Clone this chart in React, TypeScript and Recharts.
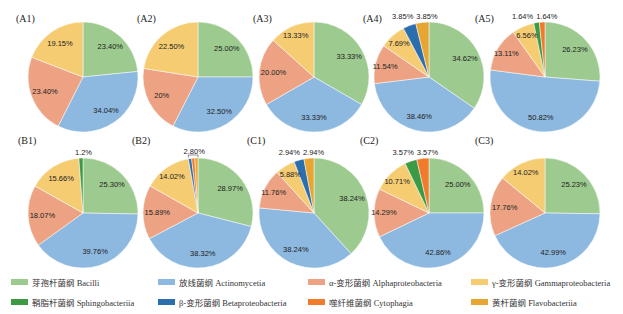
import { PieChart, Pie, Cell } from 'recharts';

const CLASS_NAMES = [
  '芽孢杆菌纲 Bacilli',
  '放线菌纲 Actinomycetia',
  'α-变形菌纲 Alphaproteobacteria',
  'γ-变形菌纲 Gammaproteobacteria',
  '鞘脂杆菌纲 Sphingobacteriia',
  'β-变形菌纲 Betaproteobacteria',
  '噬纤维菌纲 Cytophagia',
  '黄杆菌纲 Flavobacteriia',
];
const CLASS_COLORS = ['#9dca8e', '#8db8df', '#eca283', '#f5cc72', '#3c9a44', '#2b6ead', '#f27b2b', '#e7a632'];

// slice values (%), clockwise from 12 o'clock, with the class index of each slice
const A1_VALUES = [23.4, 34.04, 23.4, 19.15];
const A1_CLASSES = [0, 1, 2, 3];
const A2_VALUES = [25.0, 32.5, 20, 22.5];
const A2_CLASSES = [0, 1, 2, 3];
const A2_LABELS = ['25.00%', '32.50%', '20%', '22.50%'];
const A3_VALUES = [33.33, 33.33, 20.0, 13.33];
const A3_CLASSES = [0, 1, 2, 3];
const A4_VALUES = [34.62, 38.46, 11.54, 7.69, 3.85, 3.85];
const A4_CLASSES = [0, 1, 2, 3, 5, 7];
const A5_VALUES = [26.23, 50.82, 13.11, 6.56, 1.64, 1.64];
const A5_CLASSES = [0, 1, 2, 3, 4, 6];
const B1_VALUES = [25.3, 39.76, 18.07, 15.66, 1.2];
const B1_CLASSES = [0, 1, 2, 3, 4];
const B1_LABELS = ['25.30%', '39.76%', '18.07%', '15.66%', '1.2%'];
const B2_VALUES = [28.97, 38.32, 15.89, 14.02, 0.93, 0.93, 0.94];
const B2_CLASSES = [0, 1, 2, 3, 5, 6, 7];
const B2_GROUP_LABEL = '2.80%';
const C1_VALUES = [38.24, 38.24, 11.76, 5.88, 2.94, 2.94];
const C1_CLASSES = [0, 1, 2, 3, 5, 7];
const C2_VALUES = [25.0, 42.86, 14.29, 10.71, 3.57, 3.57];
const C2_CLASSES = [0, 1, 2, 3, 4, 6];
const C3_VALUES = [25.23, 42.99, 17.76, 14.02];
const C3_CLASSES = [0, 1, 2, 3];

const fmt = (v: number) => v.toFixed(2) + '%';

type PieSpec = { name: string; values: number[]; classes: number[]; labels: string[]; group?: string };

const PIES: PieSpec[] = [
  { name: '(A1)', values: A1_VALUES, classes: A1_CLASSES, labels: A1_VALUES.map(fmt) },
  { name: '(A2)', values: A2_VALUES, classes: A2_CLASSES, labels: A2_LABELS },
  { name: '(A3)', values: A3_VALUES, classes: A3_CLASSES, labels: A3_VALUES.map(fmt) },
  { name: '(A4)', values: A4_VALUES, classes: A4_CLASSES, labels: A4_VALUES.map(fmt) },
  { name: '(A5)', values: A5_VALUES, classes: A5_CLASSES, labels: A5_VALUES.map(fmt) },
  { name: '(B1)', values: B1_VALUES, classes: B1_CLASSES, labels: B1_LABELS },
  { name: '(B2)', values: B2_VALUES, classes: B2_CLASSES, labels: B2_VALUES.map(fmt), group: B2_GROUP_LABEL },
  { name: '(C1)', values: C1_VALUES, classes: C1_CLASSES, labels: C1_VALUES.map(fmt) },
  { name: '(C2)', values: C2_VALUES, classes: C2_CLASSES, labels: C2_VALUES.map(fmt) },
  { name: '(C3)', values: C3_VALUES, classes: C3_CLASSES, labels: C3_VALUES.map(fmt) },
];

// layout
const COL_X = [78, 193, 309, 424, 540];
const ROW_Y = [72, 208];
const RADIUS = 55;
const TITLE_LEFT = [[16, 137, 253, 363, 475], [18, 132, 247, 360, 475]];
const TITLE_Y = [19, 141];
const LEGEND_X = [11, 158, 308, 471];
const LEGEND_Y = [282, 302];

const RAD = Math.PI / 180;
const SMALL = 5;

function makeLabel(p: PieSpec) {
  const total = p.values.reduce((s, v) => s + v, 0);
  const cum: number[] = [];
  p.values.reduce((s, v, i) => ((cum[i] = s), s + v), 0);
  const small = p.values.map((v, i) => (v < SMALL ? i : -1)).filter((i) => i >= 0);
  const toTop = (share: number) => (share / total) * 2 * Math.PI;

  return (props: any) => {
    const { cx, cy, midAngle, outerRadius: r, index } = props;
    const v = p.values[index];
    const textProps = { fontSize: 7.5, fill: '#222', fontFamily: '"Liberation Sans", Arial, sans-serif', dominantBaseline: 'central' as const };
    if (v >= SMALL) {
      const k = v < 15 ? 0.82 : 0.74;
      const a = -midAngle * RAD;
      return (
        <text x={cx + k * r * Math.cos(a)} y={cy + k * r * Math.sin(a)} textAnchor="middle" {...textProps}>
          {p.labels[index]}
        </text>
      );
    }
    const ty = cy - r - 6;
    if (p.group) {
      if (index !== small[0]) return null;
      const x1 = cx + r * Math.sin(toTop(cum[index]));
      const x2 = cx + r * Math.sin(toTop(total));
      const yb = cy - r - 3;
      return (
        <g>
          <text x={(x1 + x2) / 2 + 1} y={ty - 1} textAnchor="middle" {...textProps}>
            {p.group}
          </text>
          <path d={`M${x1},${yb + 2.5}V${yb}H${x2}V${yb + 2.5}`} stroke="#444" strokeWidth={0.6} fill="none" />
        </g>
      );
    }
    const last = small[small.length - 1];
    const lastX = cx + r * Math.sin(toTop(cum[last] + p.values[last] / 2)) - 6;
    if (index === last) {
      return (
        <text x={lastX} y={ty} textAnchor="start" {...textProps}>
          {p.labels[index]}
        </text>
      );
    }
    return (
      <text x={lastX - 3} y={ty} textAnchor="end" {...textProps}>
        {p.labels[index]}
      </text>
    );
  };
}

export default function App() {
  return (
    <div style={{ position: 'relative', width: 623, height: 314, background: '#fff' }}>
      <style>{'body{margin:0}'}</style>
      <PieChart width={623} height={314}>
        {PIES.map((p, i) => (
          <Pie
            key={p.name}
            data={p.values.map((v, j) => ({ name: CLASS_NAMES[p.classes[j]], value: v }))}
            dataKey="value"
            cx={COL_X[i % 5]}
            cy={ROW_Y[Math.floor(i / 5)]}
            outerRadius={RADIUS}
            startAngle={90}
            endAngle={-270}
            stroke="#fff"
            strokeWidth={0.5}
            label={makeLabel(p)}
            labelLine={false}
            isAnimationActive={false}
          >
            {p.classes.map((c, j) => (
              <Cell key={j} fill={CLASS_COLORS[c]} />
            ))}
          </Pie>
        ))}
      </PieChart>

      {PIES.map((p, i) => (
        <div
          key={p.name}
          style={{
            position: 'absolute',
            left: TITLE_LEFT[Math.floor(i / 5)][i % 5],
            top: TITLE_Y[Math.floor(i / 5)] - 6,
            fontFamily: '"Liberation Serif", "Times New Roman", serif',
            fontSize: 10,
            lineHeight: '12px',
            color: '#222',
          }}
        >
          {p.name}
        </div>
      ))}

      {CLASS_NAMES.map((name, i) => (
        <div
          key={name}
          style={{
            position: 'absolute',
            left: LEGEND_X[i % 4],
            top: LEGEND_Y[Math.floor(i / 4)] - 6,
            height: 12,
            display: 'flex',
            alignItems: 'center',
            fontFamily: '"Liberation Serif", "Noto Sans CJK SC", serif',
            fontSize: 8.5,
            color: '#333',
            whiteSpace: 'nowrap',
          }}
        >
          <span style={{ width: 17, height: 6, background: CLASS_COLORS[i], marginRight: 4 }} />
          {name}
        </div>
      ))}
    </div>
  );
}
